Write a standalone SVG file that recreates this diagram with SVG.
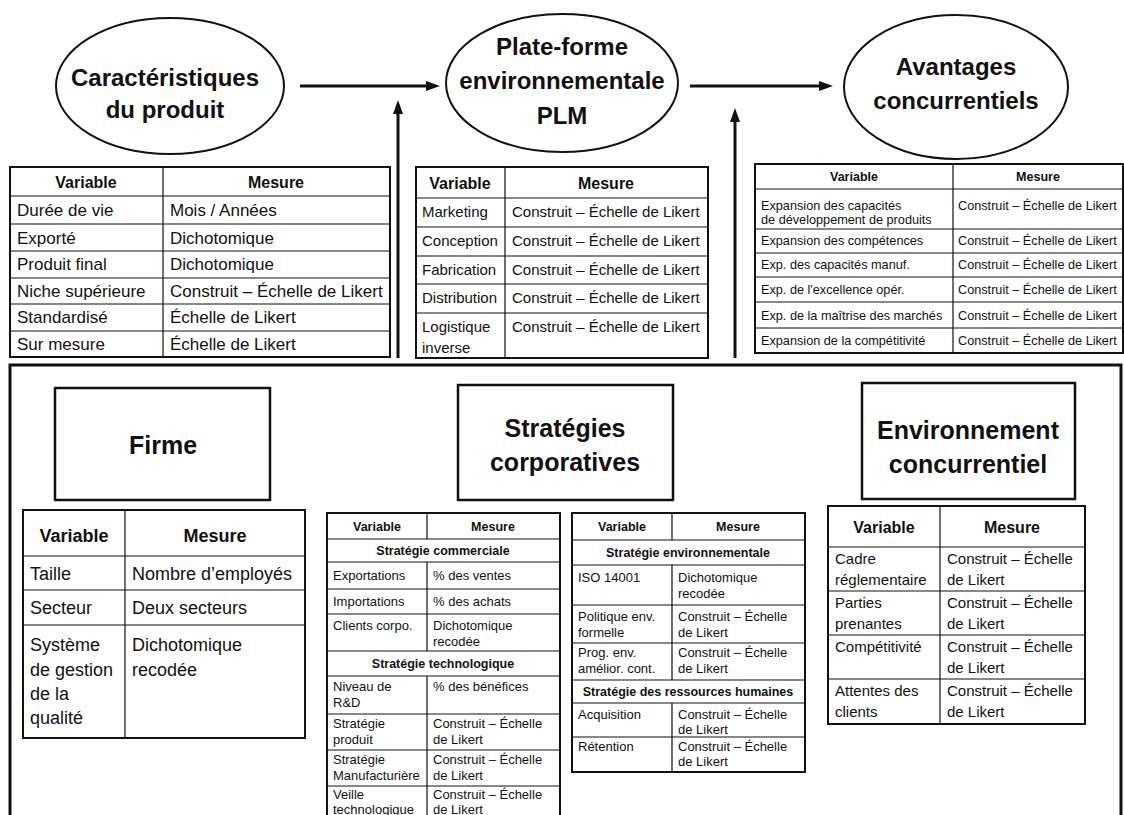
<svg xmlns="http://www.w3.org/2000/svg" width="1124" height="815" viewBox="0 0 1124 815">
<style>
text{font-family:"Liberation Sans",Arial,Helvetica,sans-serif;fill:#111}
.c{text-anchor:middle}
.b{font-weight:bold}
.title{font-size:24px;font-weight:bold}
.boxt{font-size:25px;font-weight:bold}
.el{fill:#fff;stroke:#111;stroke-width:2}
.box{fill:#fff;stroke:#111;stroke-width:2.5}
.frame{fill:none;stroke:#111;stroke-width:3}
.tb{fill:#fff;stroke:#111;stroke-width:2}
.ln{stroke:#111;stroke-width:1.2;fill:none}
.conn{stroke:#111;stroke-width:3;fill:none}
.s17{font-size:17px}.s15{font-size:15px}.s127{font-size:12.7px}.s13{font-size:13px}.s18{font-size:18px}
.h16{font-size:16px;font-weight:bold}.h125{font-size:12.5px;font-weight:bold}.h18{font-size:18px;font-weight:bold}
</style>
<defs>
<marker id="arr" viewBox="0 0 14 10" refX="0" refY="5" markerWidth="14" markerHeight="10" orient="auto" markerUnits="userSpaceOnUse">
<path d="M0,0 L14,5 L0,10 z" fill="#111"/>
</marker>
</defs>

<rect width="1124" height="815" fill="#fff"/>

<!-- outer frame around the context factors -->
<rect class="frame" x="10" y="365" width="1111" height="470"/>

<!-- connectors -->
<g id="connectors">
<path class="conn" d="M300,86 H426" marker-end="url(#arr)"/>
<path class="conn" d="M690,86 H819" marker-end="url(#arr)"/>
<path class="conn" d="M398,358 V114" marker-end="url(#arr)"/>
<path class="conn" d="M735,358 V122" marker-end="url(#arr)"/>
</g>

<!-- top row: ellipses -->
<g id="n-produit">
<ellipse class="el" cx="170" cy="86" rx="114" ry="68"/>
<text class="title c" x="165" y="86">Caractéristiques</text>
<text class="title c" x="165" y="118">du produit</text>
</g>
<g id="n-plm">
<ellipse class="el" cx="562" cy="83" rx="116" ry="69"/>
<text class="title c" x="562" y="55">Plate-forme</text>
<text class="title c" x="562" y="89">environnementale</text>
<text class="title c" x="562" y="124">PLM</text>
</g>
<g id="n-avantages">
<ellipse class="el" cx="956" cy="87" rx="112" ry="72"/>
<text class="title c" x="956" y="75">Avantages</text>
<text class="title c" x="956" y="109">concurrentiels</text>
</g>

<!-- table: product characteristics -->
<g id="t-produit">
<rect class="tb" x="10" y="167" width="380" height="190"/>
<path class="ln" d="M163,167 V357 M10,196 H390 M10,224 H390 M10,251 H390 M10,278 H390 M10,304 H390 M10,331 H390"/>
<text class="h16 c" x="86" y="188">Variable</text>
<text class="h16 c" x="276" y="188">Mesure</text>
<g class="s17">
<text x="17" y="216">Durée de vie</text><text x="170" y="216">Mois / Années</text>
<text x="17" y="244">Exporté</text><text x="170" y="244">Dichotomique</text>
<text x="17" y="270">Produit final</text><text x="170" y="270">Dichotomique</text>
<text x="17" y="297">Niche supérieure</text><text x="170" y="297">Construit – Échelle de Likert</text>
<text x="17" y="323">Standardisé</text><text x="170" y="323">Échelle de Likert</text>
<text x="17" y="350">Sur mesure</text><text x="170" y="350">Échelle de Likert</text>
</g>
</g>

<!-- table: PLM platform -->
<g id="t-plm">
<rect class="tb" x="416" y="167" width="292" height="191"/>
<path class="ln" d="M505,167 V358 M416,198 H708 M416,227 H708 M416,256 H708 M416,284 H708 M416,313 H708"/>
<text class="h16 c" x="460" y="189">Variable</text>
<text class="h16 c" x="606" y="189">Mesure</text>
<g class="s15">
<text x="422" y="217">Marketing</text><text x="512" y="217">Construit – Échelle de Likert</text>
<text x="422" y="246">Conception</text><text x="512" y="246">Construit – Échelle de Likert</text>
<text x="422" y="275">Fabrication</text><text x="512" y="275">Construit – Échelle de Likert</text>
<text x="422" y="303">Distribution</text><text x="512" y="303">Construit – Échelle de Likert</text>
<text x="422" y="332">Logistique</text><text x="422" y="353">inverse</text><text x="512" y="332">Construit – Échelle de Likert</text>
</g>
</g>

<!-- table: competitive advantages -->
<g id="t-avantages">
<rect class="tb" x="755" y="164" width="368" height="189"/>
<path class="ln" d="M953,164 V353 M755,189 H1123 M755,229 H1123 M755,253 H1123 M755,277 H1123 M755,302 H1123 M755,328 H1123"/>
<text class="h125 c" x="854" y="181">Variable</text>
<text class="h125 c" x="1038" y="181">Mesure</text>
<g class="s127">
<text x="761" y="210">Expansion des capacités</text><text x="761" y="224">de développement de produits</text><text x="958" y="210">Construit – Échelle de Likert</text>
<text x="761" y="245">Expansion des compétences</text><text x="958" y="245">Construit – Échelle de Likert</text>
<text x="761" y="269">Exp. des capacités manuf.</text><text x="958" y="269">Construit – Échelle de Likert</text>
<text x="761" y="294">Exp. de l'excellence opér.</text><text x="958" y="294">Construit – Échelle de Likert</text>
<text x="761" y="320">Exp. de la maîtrise des marchés</text><text x="958" y="320">Construit – Échelle de Likert</text>
<text x="761" y="345">Expansion de la compétitivité</text><text x="958" y="345">Construit – Échelle de Likert</text>
</g>
</g>

<!-- context boxes -->
<g id="n-firme">
<rect class="box" x="55" y="388" width="215" height="112"/>
<text class="boxt c" x="163" y="454">Firme</text>
</g>
<g id="n-strategies">
<rect class="box" x="458" y="385" width="215" height="115"/>
<text class="boxt c" x="565" y="437">Stratégies</text>
<text class="boxt c" x="565" y="471">corporatives</text>
</g>
<g id="n-environnement">
<rect class="box" x="862" y="383" width="213" height="116"/>
<text class="boxt c" x="968" y="439">Environnement</text>
<text class="boxt c" x="968" y="473">concurrentiel</text>
</g>

<!-- table: firm -->
<g id="t-firme">
<rect class="tb" x="23" y="510" width="282" height="228"/>
<path class="ln" d="M125,510 V738 M23,556 H305 M23,590 H305 M23,625 H305"/>
<text class="h18 c" x="74" y="542">Variable</text>
<text class="h18 c" x="215" y="542">Mesure</text>
<g class="s18">
<text x="30" y="580">Taille</text><text x="132" y="580">Nombre d’employés</text>
<text x="30" y="614">Secteur</text><text x="132" y="614">Deux secteurs</text>
<text x="30" y="651">Système</text><text x="30" y="676">de gestion</text><text x="30" y="700">de la</text><text x="30" y="724">qualité</text>
<text x="132" y="651">Dichotomique</text><text x="132" y="676">recodée</text>
</g>
</g>

<!-- table: corporate strategies (commercial / technological) -->
<g id="t-strat1">
<rect class="tb" x="327" y="513" width="233" height="320"/>
<path class="ln" d="M427,513 V539 M427,562 V651 M427,676 V833 M327,539 H560 M327,562 H560 M327,589 H560 M327,614 H560 M327,651 H560 M327,676 H560 M327,714 H560 M327,750 H560 M327,786 H560"/>
<text class="h125 c" x="377" y="531">Variable</text>
<text class="h125 c" x="493" y="531">Mesure</text>
<text class="h125 c" x="443" y="555">Stratégie commerciale</text>
<text class="h125 c" x="443" y="668">Stratégie technologique</text>
<g class="s13">
<text x="333" y="580">Exportations</text><text x="433" y="580">% des ventes</text>
<text x="333" y="606">Importations</text><text x="433" y="606">% des achats</text>
<text x="333" y="630">Clients corpo.</text><text x="433" y="630">Dichotomique</text><text x="433" y="646">recodée</text>
<text x="333" y="691">Niveau de</text><text x="333" y="707">R&amp;D</text><text x="433" y="691">% des bénéfices</text>
<text x="333" y="728">Stratégie</text><text x="333" y="744">produit</text><text x="433" y="728">Construit – Échelle</text><text x="433" y="744">de Likert</text>
<text x="333" y="764">Stratégie</text><text x="333" y="780">Manufacturière</text><text x="433" y="764">Construit – Échelle</text><text x="433" y="780">de Likert</text>
<text x="333" y="799">Veille</text><text x="333" y="814">technologique</text><text x="433" y="799">Construit – Échelle</text><text x="433" y="814">de Likert</text>
</g>
</g>

<!-- table: corporate strategies (environmental / human resources) -->
<g id="t-strat2">
<rect class="tb" x="572" y="513" width="233" height="259"/>
<path class="ln" d="M672,513 V540 M672,565 V680 M672,703 V772 M572,540 H805 M572,565 H805 M572,605 H805 M572,643 H805 M572,680 H805 M572,703 H805 M572,737 H805"/>
<text class="h125 c" x="622" y="531">Variable</text>
<text class="h125 c" x="738" y="531">Mesure</text>
<text class="h125 c" x="688" y="557">Stratégie environnementale</text>
<text class="h125 c" x="688" y="696">Stratégie des ressources humaines</text>
<g class="s13">
<text x="578" y="582">ISO 14001</text><text x="678" y="582">Dichotomique</text><text x="678" y="598">recodée</text>
<text x="578" y="621">Politique env.</text><text x="578" y="637">formelle</text><text x="678" y="621">Construit – Échelle</text><text x="678" y="637">de Likert</text>
<text x="578" y="657">Prog. env.</text><text x="578" y="673">amélior. cont.</text><text x="678" y="657">Construit – Échelle</text><text x="678" y="673">de Likert</text>
<text x="578" y="719">Acquisition</text><text x="678" y="719">Construit – Échelle</text><text x="678" y="734">de Likert</text>
<text x="578" y="751">Rétention</text><text x="678" y="751">Construit – Échelle</text><text x="678" y="766">de Likert</text>
</g>
</g>

<!-- table: competitive environment -->
<g id="t-environnement">
<rect class="tb" x="828" y="506" width="257" height="218"/>
<path class="ln" d="M940,506 V724 M828,547 H1085 M828,591 H1085 M828,635 H1085 M828,679 H1085"/>
<text class="h16 c" x="884" y="533">Variable</text>
<text class="h16 c" x="1012" y="533">Mesure</text>
<g class="s15">
<text x="835" y="564">Cadre</text><text x="835" y="585">réglementaire</text><text x="947" y="564">Construit – Échelle</text><text x="947" y="585">de Likert</text>
<text x="835" y="608">Parties</text><text x="835" y="629">prenantes</text><text x="947" y="608">Construit – Échelle</text><text x="947" y="629">de Likert</text>
<text x="835" y="652">Compétitivité</text><text x="947" y="652">Construit – Échelle</text><text x="947" y="673">de Likert</text>
<text x="835" y="696">Attentes des</text><text x="835" y="717">clients</text><text x="947" y="696">Construit – Échelle</text><text x="947" y="717">de Likert</text>
</g>
</g>
</svg>
